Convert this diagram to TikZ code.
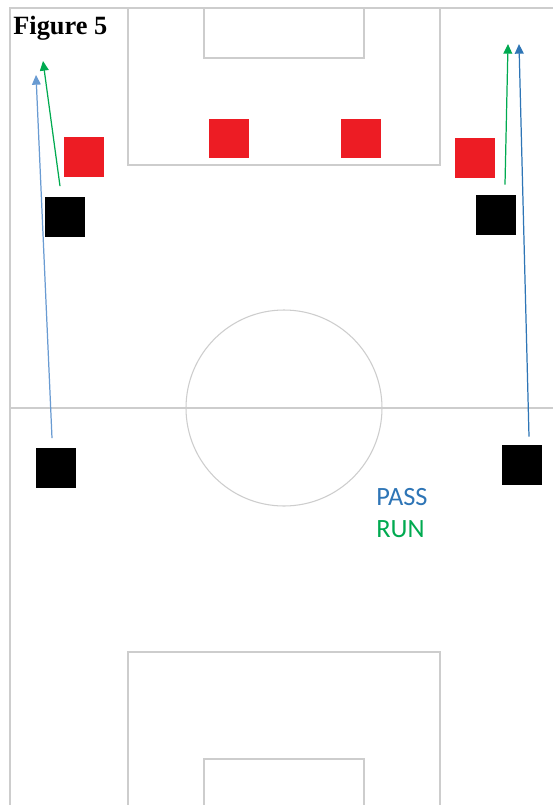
\documentclass[tikz,border=0pt]{standalone}
\usepackage{fontspec}
\newfontfamily\figfont{Liberation Serif}
\newfontfamily\keyfont{Carlito}
\usetikzlibrary{arrows.meta, calc}
\definecolor{redteam}{RGB}{237,28,36}
\definecolor{passblue}{RGB}{46,117,182}
\definecolor{passlight}{RGB}{105,155,210}
\definecolor{rungreen}{RGB}{0,170,80}
\definecolor{pitchline}{RGB}{205,205,205}
\tikzset{
  opp/.style={fill=redteam, minimum size=0.8cm, inner sep=0pt},
  own/.style={fill=black, minimum size=0.8cm, inner sep=0pt},
  pitch/.style={draw=pitchline, line width=0.6pt},
  pass/.style={draw=passblue, line width=0.7pt, -{Triangle[length=5.5pt,width=5pt]}},
  run/.style={draw=rungreen, line width=0.7pt, -{Triangle[length=5.5pt,width=5pt]}}
}

\begin{document}
\begin{tikzpicture}[x=0.02cm, y=-0.02cm]
\useasboundingbox (0,0) rectangle (553,805);
\fill[white] (0,0) rectangle (553,805);
\draw[pitch] (10,805) -- (10,8) -- (553,8);
\draw[pitch] (10,408) -- (553,408);
\draw[pitch] (284,408) circle (98);
\draw[pitch] (128,8) rectangle (440,165);
\draw[pitch] (204,8) rectangle (364,58);
\draw[pitch] (128,805) -- (128,652) -- (440,652) -- (440,805);
\draw[pitch] (204,805) -- (204,759) -- (364,759) -- (364,805);

\node[anchor=base west, inner sep=0pt, font=\figfont\bfseries\fontsize{15}{17}\selectfont] (title) at (13,34) {Figure 5};

\node[opp] (r1) at (84,157) {};
\node[opp] (r2) at (229,138.5) {};
\node[opp] (r3) at (361,138.5) {};
\node[opp] (r4) at (474.5,158) {};

\node[own] (b1) at (65,216.5) {};
\node[own] (b2) at (495.5,215) {};
\node[own] (b3) at (56,467.5) {};
\node[own] (b4) at (522,465) {};

\coordinate (p1s) at ($(b3.north)+(-4,-9)$);
\coordinate (p1e) at (36,75);
\coordinate (g1s) at ($(b1.north)+(-5,-10)$);
\coordinate (g1e) at (43,61);
\coordinate (g2s) at ($(b2.north)+(9.5,-10)$);
\coordinate (g2e) at (508,44);
\coordinate (p2s) at ($(b4.north)+(7,-8)$);
\coordinate (p2e) at (519,44);

\draw[pass, draw=passlight] (p1s) -- (p1e);
\draw[run] (g1s) -- (g1e);
\draw[run] (g2s) -- (g2e);
\draw[pass] (p2s) -- (p2e);

\node[anchor=base west, passblue, font=\keyfont\fontsize{15}{18}\selectfont, inner sep=0pt] (passkey) at (376,505) {PASS};
\node[anchor=base west, rungreen, font=\keyfont\fontsize{15}{18}\selectfont, inner sep=0pt] (runkey) at (376,537) {RUN};
\end{tikzpicture}
\end{document}
